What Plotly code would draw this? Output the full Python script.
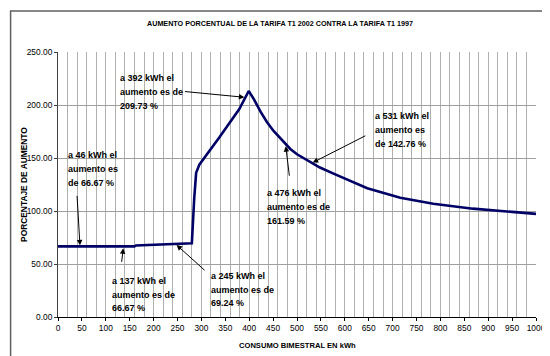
import plotly.graph_objects as go
import numpy as np

# ---- data ----
kwh = [0, 46, 137, 160, 163, 200, 245, 280, 285, 289, 296, 317, 337, 358, 379, 399,
       410, 424, 437, 451, 465, 476, 486, 500, 520, 548, 580, 620, 647, 716, 785, 868,
       900, 950, 1000]
pct = [66.67, 66.67, 66.67, 66.67, 67.5, 68.3, 69.24, 69.6, 112, 136, 144, 156.6, 169.2, 182.5, 196, 213.2,
       205.3, 193.5, 184, 175.5, 168.5, 163, 158.5, 153.5, 148, 141, 134.5, 126.5, 121.5, 112.5, 106.9, 102.2,
       100.8, 99.2, 97.3]

x_ticks = list(range(0, 1001, 50))
y_ticks = [0, 50, 100, 150, 200, 250]

ann_kwh = [46, 137, 245, 392, 476, 531]
ann_text = [
    "a 46 kWh el<br>aumento es<br>de 66.67 %",
    "a 137 kWh el<br>aumento es de<br>66.67 %",
    "a 245 kWh el<br>aumento es de<br>69.24 %",
    "a 392 kWh el<br>aumento es de<br>209.73 %",
    "a 476 kWh el<br>aumento es de<br>161.59 %",
    "a 531 kWh el<br>aumento es<br>de 142.76 %",
]

title = "AUMENTO PORCENTUAL DE LA TARIFA T1 2002 CONTRA LA TARIFA T1 1997"
x_title = "CONSUMO BIMESTRAL EN kWh"
y_title = "PORCENTAJE DE AUMENTO"

# ---- layout helpers ----
W, H = 550, 356
ML, MR, MT, MB = 50, 16, 44, 47
PW, PH = W - ML - MR, H - MT - MB


def px_x(p):
    return (p - ML) / PW


def px_y(p):
    return (H - MB - p) / PH


SANS = "Liberation Sans, Arial"

fig = go.Figure()
fig.add_trace(go.Scatter(x=kwh, y=pct, mode="lines",
                         line=dict(color="#000066", width=2.6),
                         hoverinfo="skip", showlegend=False))

# arrow tails (pixel offsets from tip) and text block positions (pixels)
arrow_off = [(-3, -52), (-2, 17), (31, 28), (-62, -6), (4, 33), (55, -28)]
arrow_stand = [1, 2, 2, 1, 2, 1]
text_pos = [(58, 147.3), (103, 272.7), (203, 267.7), (111, 70), (259.5, 185), (369, 108.3)]
LINE_STEP = 13.8

tips = np.interp(ann_kwh, kwh, pct)
annotations = []
for k, v, (ax, ay), s in zip(ann_kwh, tips, arrow_off, arrow_stand):
    annotations.append(dict(x=k, y=float(v), xref="x", yref="y", text="",
                            showarrow=True, ax=ax, ay=ay, arrowhead=2, arrowsize=1.1,
                            arrowwidth=1, arrowcolor="#000000", standoff=s))
for t, (tx, ty) in zip(ann_text, text_pos):
    for i, line in enumerate(t.split("<br>")):
        annotations.append(dict(x=px_x(tx), y=px_y(ty + i * LINE_STEP), xref="paper", yref="paper",
                                text="<b>" + line + "</b>", showarrow=False,
                                xanchor="left", yanchor="middle", align="left",
                                font=dict(family=SANS, size=9, color="#000000")))

annotations.append(dict(x=px_x(275), y=px_y(15), xref="paper", yref="paper",
                        text="<b>" + title + "</b>", showarrow=False,
                        xanchor="center", yanchor="middle",
                        font=dict(family=SANS, size=7.2, color="#000000")))
annotations.append(dict(x=px_x(292), y=px_y(337), xref="paper", yref="paper",
                        text="<b>" + x_title + "</b>", showarrow=False,
                        xanchor="center", yanchor="middle",
                        font=dict(family=SANS, size=7.6, color="#000000")))
annotations.append(dict(x=px_x(15), y=px_y(176.5), xref="paper", yref="paper",
                        text="<b>" + y_title + "</b>", showarrow=False, textangle=-90,
                        xanchor="center", yanchor="middle",
                        font=dict(family=SANS, size=8.4, color="#000000")))

fig.update_layout(
    width=W, height=H,
    margin=dict(l=ML, r=MR, t=MT, b=MB, pad=0),
    paper_bgcolor="white", plot_bgcolor="white",
    annotations=annotations,
    shapes=[dict(type="rect", xref="paper", yref="paper",
                 x0=px_x(2), x1=px_x(547.5), y0=px_y(352.5), y1=px_y(3),
                 line=dict(color="#606060", width=1.5))],
    xaxis=dict(range=[0, 1000], tickmode="array", tickvals=x_ticks,
               ticktext=[str(v) for v in x_ticks],
               showgrid=False, zeroline=False,
               showline=True, linecolor="#000000", linewidth=1,
               ticks="outside", ticklen=3, tickcolor="#000000",
               tickfont=dict(family=SANS, size=8.4, color="#000000"),
               minor=dict(dtick=20, tick0=0, showgrid=True, gridcolor="#b0b0b0",
                          gridwidth=1, ticks="")),
    yaxis=dict(range=[0, 250], tickmode="array", tickvals=y_ticks,
               ticktext=["%.2f" % v for v in y_ticks],
               showgrid=True, gridcolor="#a0a0a0", gridwidth=1, zeroline=False,
               showline=True, linecolor="#404040", linewidth=1,
               ticks="outside", ticklen=3, tickcolor="#404040",
               tickfont=dict(family=SANS, size=8.4, color="#000000")),
)

fig.write_html("out.html")
